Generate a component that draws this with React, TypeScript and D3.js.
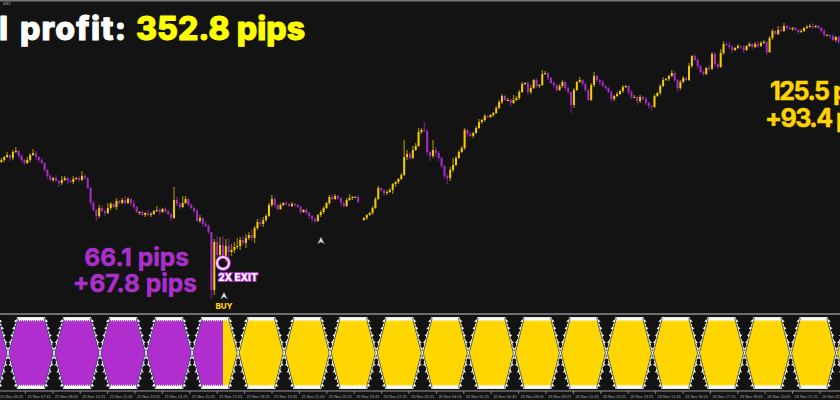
import * as d3 from 'd3';
import React from 'react';

// closes in pips above the chart bottom, one row per 16 bars, null = missing bar
const closes: (number | null)[] = [
  152,155,157,154,160,161,156,152,149,152,157,159,155,152,149,142,
  136,132,134,131,129,132,134,131,130,133,134,132,136,134,124,109,
  102,96,104,101,99,104,108,105,111,109,112,109,113,109,105,100,
  100,97,99,97,98,101,102,100,103,101,98,94,112,108,105,109,
  113,107,104,101,91,94,88,86,80,22,70,57,67,56,66,60,
  62,65,66,72,69,74,77,74,84,90,88,92,96,107,113,107,
  103,107,109,108,106,108,107,105,100,102,99,96,93,91,97,100,
  104,109,115,113,116,114,109,106,112,114,115,115,110,null,94,97,
  99,104,113,124,122,119,120,122,128,130,133,137,155,158,154,162,
  166,180,182,181,160,156,162,159,154,146,136,134,142,147,154,160,
  164,182,178,176,179,184,190,192,196,195,197,199,204,210,216,212,
  212,209,212,214,220,228,229,220,224,232,226,227,238,239,234,229,
  227,222,226,230,224,220,207,222,230,232,228,222,212,227,236,232,
  230,226,224,220,213,216,218,221,225,226,220,215,215,211,215,213,
  209,206,205,216,219,226,232,233,236,239,232,224,230,234,232,246,
  256,252,246,240,238,244,243,258,248,245,259,268,267,265,262,264,
  266,265,262,266,268,265,268,266,269,270,260,274,281,278,282,281,
  286,284,283,284,282,280,281,284,285,286,285,286,284,281,277,277,
  276,272,275,270,
];
const wickUp = [
  2,1,3,1,2,4,1,2,1,3,2,4,2,1,2,1,
  1,2,1,3,1,4,2,1,2,3,1,2,5,2,1,1,
  2,1,3,2,1,5,2,1,3,1,2,4,2,1,3,1,
  1,2,1,3,2,1,4,2,1,2,1,1,13,3,2,7,
  3,1,2,1,2,3,1,3,2,0,3,6,8,9,7,8,
  6,5,8,3,4,4,3,5,2,3,4,3,2,2,4,2,
  1,2,1,2,1,2,1,1,2,1,2,1,1,2,1,2,
  2,1,2,3,2,1,1,2,2,4,1,1,2,0,1,1,
  1,2,2,2,1,1,2,2,1,1,1,2,17,4,2,4,
  3,4,2,8,2,1,10,3,2,1,1,2,3,7,2,2,
  2,2,1,2,1,2,3,1,2,1,1,1,2,2,2,1,
  2,1,5,2,2,2,1,2,3,1,2,1,4,2,1,1,
  2,1,2,2,1,1,0,2,1,3,1,2,1,2,4,1,
  1,2,1,1,2,1,2,1,2,1,1,2,2,1,2,1,
  2,1,1,2,1,2,3,1,1,3,2,1,2,2,1,3,
  1,2,2,1,2,1,3,2,2,1,4,3,1,3,2,1,
  2,1,2,1,2,1,2,3,2,2,1,2,2,1,4,4,
  3,1,2,1,1,1,2,1,2,2,3,1,1,1,2,1,
  1,2,1,1,
];
const wickDown = [
  1,2,1,3,2,1,2,3,2,1,2,1,3,2,1,2,
  3,1,2,1,4,2,1,3,1,2,1,2,1,2,1,3,
  1,5,2,1,3,1,2,1,3,2,1,2,1,3,2,1,
  3,1,2,1,2,1,1,3,1,2,1,3,1,2,2,1,
  1,2,1,2,1,2,3,1,2,9,5,2,5,3,6,5,
  4,3,2,4,2,5,2,3,5,2,2,3,2,1,2,3,
  2,1,1,2,1,1,2,1,2,1,2,3,3,2,1,2,
  2,1,2,1,1,2,3,1,1,1,2,1,1,0,1,2,
  1,2,1,1,2,3,2,1,4,3,2,1,1,3,2,1,
  1,1,2,1,3,5,2,4,3,2,3,6,3,2,1,1,
  1,2,3,1,2,1,1,2,2,1,1,2,1,1,2,1,
  1,3,1,1,2,1,1,3,2,1,2,2,1,1,2,1,
  3,2,1,2,3,2,8,3,1,1,2,2,1,1,2,2,
  3,1,2,1,3,2,1,1,2,1,3,2,1,4,2,1,
  2,3,4,1,1,2,1,1,2,1,2,4,2,1,1,1,
  2,1,3,1,2,1,2,1,3,2,1,2,1,2,3,1,
  1,2,3,1,1,2,1,2,1,1,3,1,2,1,1,1,
  1,2,1,2,1,2,1,1,1,1,2,1,1,2,2,1,
  3,1,2,2,
];

// oscillator: bar positions where the two bands cross
const crossings = [2.3,18.3,34.3,50.3,66.3,82.3,98.3,114.3,130.3,146.3,162.3,178.3,194.3,210.3,226.3,242.3,258.3,274.3,290.3];
const bandShape = [0, 1, 1, 0];
const bandOffset = [0, 3.1, 12.9, 16];
const toothSteps = [0.12, 0.32, 0.52, 0.72, 0.92];
const flipBar = 77;

const timeLabels = [
  '25 Nov 06:25','25 Nov 07:45','25 Nov 09:05','25 Nov 10:25','25 Nov 11:45','25 Nov 13:05','25 Nov 14:25','25 Nov 15:45',
  '25 Nov 17:05','25 Nov 18:25','25 Nov 19:45','25 Nov 21:05','25 Nov 22:25','25 Nov 23:45','26 Nov 01:25','26 Nov 02:45',
  '26 Nov 04:05','26 Nov 05:25','26 Nov 06:45','26 Nov 08:05','26 Nov 09:25','26 Nov 10:45','26 Nov 12:05','26 Nov 13:25',
  '26 Nov 14:45','26 Nov 16:05','26 Nov 17:25','26 Nov 18:45','26 Nov 20:05','26 Nov 21:25','26 Nov 22:45',
];

const width = 840, height = 400;
const bg = '#131313', gold = '#ffd400', purple = '#ab2fcb';
const font = 'Inter, "Open Sans", sans-serif';

const x = d3.scaleLinear().domain([0, 292]).range([1.4, 841.5]);
const y = d3.scaleLinear().domain([0, 312]).range([312, 0]);
const osc = d3.scaleLinear().domain([-1, 1]).range([388, 318]);
const tickX = d3.scalePoint<string>().domain(timeLabels).range([-2, 820]);

function hexPath(c: number) {
  return d3.area<number>()
    .x((_, i) => x(c + bandOffset[i]))
    .y0(d => osc(-d))
    .y1(d => osc(d))(bandShape) as string;
}

function Candles() {
  return (
    <g>
      {closes.map((c, i) => {
        if (c === null) return null;
        const prev = i > 0 ? closes[i - 1] : null;
        const open = prev === null ? c - 2 : prev;
        const hi = Math.max(open, c), lo = Math.min(open, c);
        const col = c >= open ? '#f2cb00' : '#a52cc4';
        const top = y(hi), bot = y(lo);
        return (
          <g key={i}>
            <line x1={x(i)} x2={x(i)} y1={y(hi + wickUp[i])} y2={y(lo - wickDown[i])} stroke={col} strokeOpacity={0.55} strokeWidth={1.4} />
            <rect x={x(i) - 1} y={top} width={2} height={Math.max(bot - top, 1)} fill={col} />
          </g>
        );
      })}
    </g>
  );
}

function Oscillator() {
  const starts = [crossings[0] - 16, ...crossings];
  const shapes = starts.map(c => hexPath(c)).join(' ');
  const slants: { c: number; dir: number; side: number }[] = [];
  crossings.forEach(c => {
    [-1, 1].forEach(dir => [-1, 1].forEach(side => slants.push({ c, dir, side })));
  });
  const tri = d3.line<[number, number]>();
  return (
    <g>
      <defs>
        <clipPath id="buyPart"><rect x={0} y={300} width={x(flipBar)} height={100} /></clipPath>
        <clipPath id="sellPart"><rect x={x(flipBar)} y={300} width={width} height={100} /></clipPath>
      </defs>
      <path d={shapes} fill="#b02ece" clipPath="url(#buyPart)" />
      <path d={shapes} fill="#ffd600" clipPath="url(#sellPart)" />
      {starts.map(c => [1, -1].map(s => {
        const x1 = x(c + bandOffset[1]), x2 = x(c + bandOffset[2]);
        return (
          <g key={c + '-' + s}>
            <line x1={x1} x2={x2} y1={osc(s) + s * 0.6} y2={osc(s) + s * 0.6} stroke="#fff" strokeWidth={3} />
            <line x1={x1} x2={x2} y1={osc(s) + s * 2.6} y2={osc(s) + s * 2.6} stroke="#fff" strokeWidth={1.2} strokeDasharray="1 1" />
          </g>
        );
      }))}
      {slants.map(({ c, dir, side }, i) => {
        const x0 = x(c), x1 = x(c + dir * bandOffset[1]);
        const y0 = osc(0), y1 = osc(side);
        return (
          <g key={i}>
            <line x1={x0 + dir * 0.9} y1={y0} x2={x1 + dir * 0.9} y2={y1} stroke="#3d5a78" strokeWidth={1} />
            <line x1={x0} y1={y0} x2={x1} y2={y1} stroke="#f2f5f8" strokeWidth={1} strokeDasharray="2.5 1.5" />
            {toothSteps.map(t => {
              const px = x0 + (x1 - x0) * t, py = y0 + (y1 - y0) * t;
              const pts: [number, number][] = [[px, py - 1.6], [px - dir * 2.4, py + 1], [px, py + 1.2]];
              const fill = t > 0.3 ? '#fff' : '#e4c8ee';
              return <path key={t} d={tri(pts) + 'Z'} fill={fill} />;
            })}
          </g>
        );
      })}
    </g>
  );
}

function TimeAxis() {
  return (
    <g>
      <line x1={0} x2={width} y1={391} y2={391} stroke="#9a9a9a" strokeWidth={1} />
      {timeLabels.map(l => (
        <g key={l} transform={`translate(${tickX(l)},391)`}>
          <line y1={0} y2={3} stroke="#9a9a9a" strokeWidth={0.8} />
          <text x={2} y={7} fontSize={3.9} fill="#a8a8a8" fontFamily="Liberation Sans, sans-serif">{l}</text>
        </g>
      ))}
    </g>
  );
}

function Arrow({ px, py }: { px: number; py: number }) {
  const pts: [number, number][] = [[px, py - 4], [px + 3.5, py + 3], [px, py + 1], [px - 3.5, py + 3]];
  return <path d={d3.line()(pts) + 'Z'} fill="#d8dde2" stroke="#4d5a66" strokeWidth={0.4} />;
}

export default function App() {
  return (
    <svg width={width} height={height} style={{ position: 'fixed', left: 0, top: 0, background: bg }} viewBox={`0 0 ${width} ${height}`}>
      <rect width={width} height={height} fill={bg} />
      <rect width={width} height={1.5} fill="#777" />
      <text x={2} y={5} fontSize={4} fill="#aaa" fontFamily="DejaVu Sans, sans-serif">.842</text>
      <Candles />
      <g fontFamily={font} fontWeight={800} fontSize={32} strokeWidth={1} strokeLinejoin="round">
        <text x={8} y={40} textAnchor="end" fill="#fff" stroke="#fff">Total</text>
        <text x={20} y={40} fill="#fff" stroke="#fff" letterSpacing={1.2}>profit:</text>
        <text x={136} y={40} fill="#ffff00" stroke="#ffff00">352.8 pips</text>
      </g>

      <g fontFamily={font} fontWeight={700} fontSize={24.5} fill={purple} stroke={purple} strokeWidth={0.5}>
        <text x={189} y={266} textAnchor="end">66.1 pips</text>
        <text x={197} y={292} textAnchor="end">+67.8 pips</text>
      </g>
      <g fontFamily={font} fontWeight={700} fontSize={25} fill={gold} stroke={gold} strokeWidth={0.5} letterSpacing={-1.5}>
        <text x={770} y={100}>125.5 pips</text>
        <text x={765} y={127}>+93.4 pips</text>
      </g>

      <circle cx={223} cy={263} r={6} fill="none" stroke={purple} strokeWidth={4} />
      <circle cx={223} cy={263} r={6} fill="none" stroke="#f3dcfa" strokeWidth={2} />
      <text x={238} y={281} textAnchor="middle" fontFamily={font} fontWeight={800} fontSize={10} fill="#fff" stroke={purple} strokeWidth={2} paintOrder="stroke">2X EXIT</text>
      <Arrow px={224} py={296} />
      <text x={224} y={309} textAnchor="middle" fontFamily={font} fontWeight={800} fontSize={8} fill={gold}>BUY</text>
      <Arrow px={321} py={241} />

      <rect x={0} y={313} width={width} height={2} fill="#6e6e6e" />
      <Oscillator />
      <TimeAxis />
    </svg>
  );
}
